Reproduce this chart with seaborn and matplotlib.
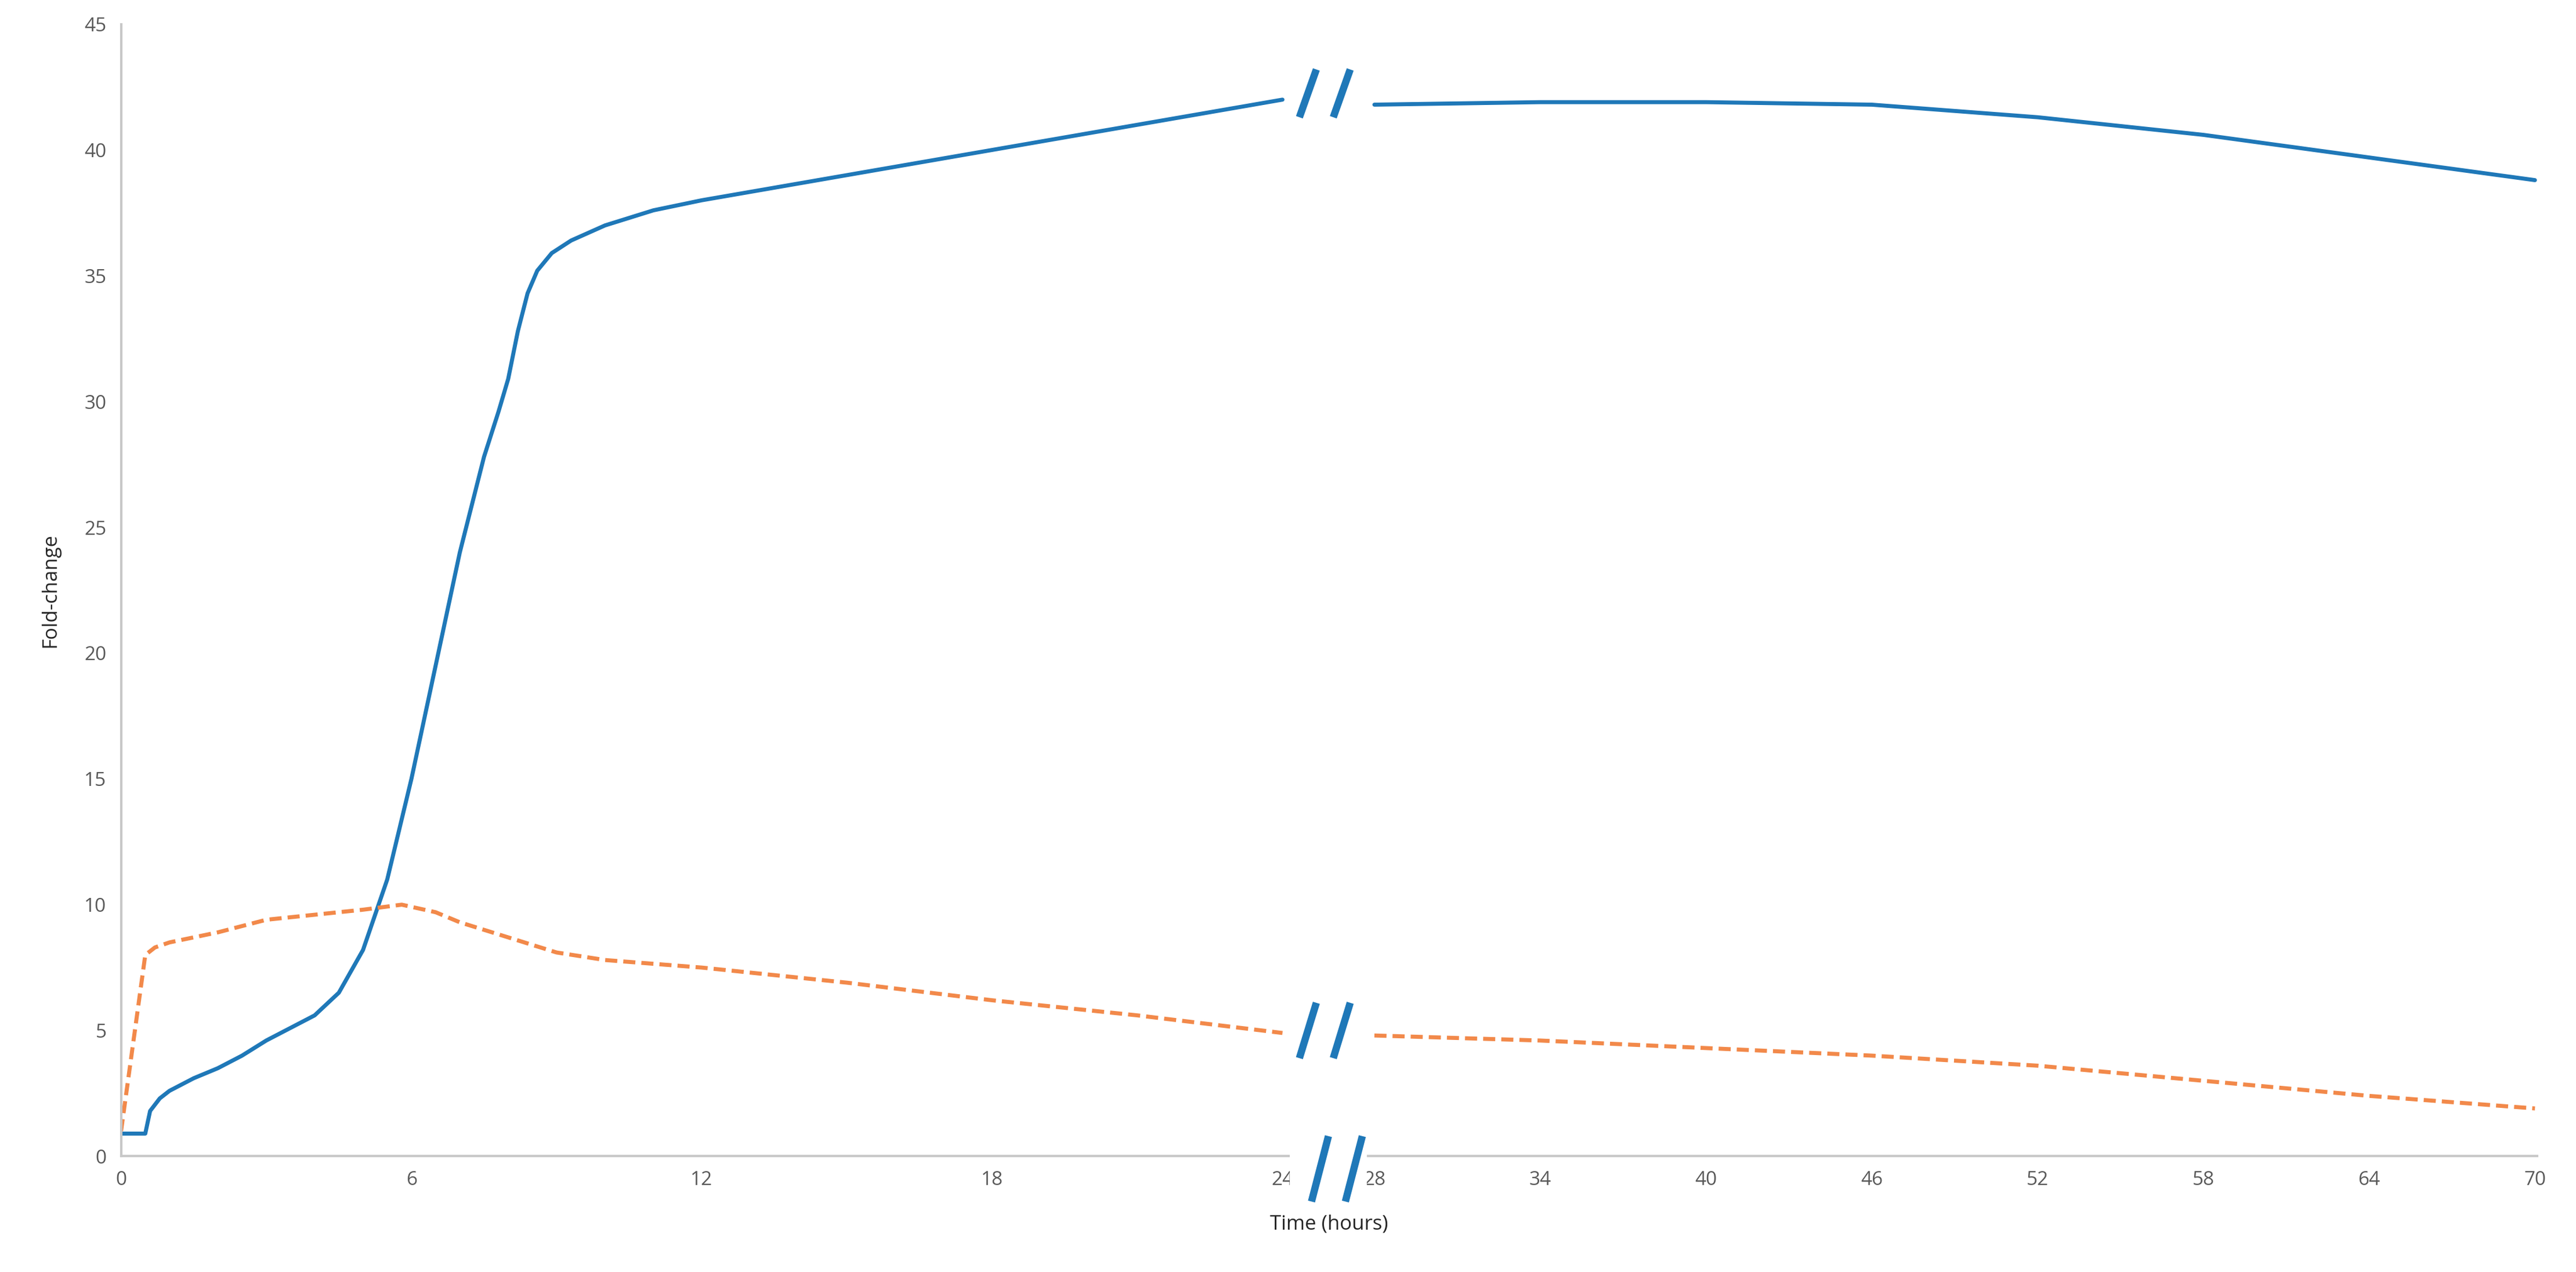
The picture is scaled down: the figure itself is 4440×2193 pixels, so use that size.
import numpy as np
import pandas as pd
import matplotlib.pyplot as plt
import seaborn as sns
from matplotlib.patches import Rectangle

# values (time in hours, fold-change)
blue_t = [0, 0.5, 0.6, 0.8, 1, 1.5, 2, 2.5, 3, 3.5, 4, 4.5, 5, 5.5, 6, 6.5, 7, 7.5, 7.8, 8.0,
          8.2, 8.4, 8.6, 8.9, 9.3, 10, 11, 12, 15, 18, 21, 24, 28, 34, 40, 46, 52, 58, 64, 70]
blue_y = [0.9, 0.9, 1.8, 2.3, 2.6, 3.1, 3.5, 4.0, 4.6, 5.1, 5.6, 6.5, 8.2, 11.0, 15.0, 19.5, 24.0,
          27.8, 29.6, 30.9, 32.8, 34.3, 35.2, 35.9, 36.4, 37.0, 37.6, 38.0, 39.0, 40.0, 41.0, 42.0,
          41.8, 41.9, 41.9, 41.8, 41.3, 40.6, 39.7, 38.8]
orange_t = [0, 0.5, 0.7, 1, 2, 3, 4, 5, 5.8, 6.5, 7, 8, 9, 10, 12, 15, 18, 21, 24,
            28, 34, 40, 46, 52, 58, 64, 70]
orange_y = [1.0, 8.0, 8.3, 8.5, 8.9, 9.4, 9.6, 9.8, 10.0, 9.7, 9.3, 8.7, 8.1, 7.8, 7.5, 6.9, 6.2,
            5.6, 4.9, 4.8, 4.6, 4.3, 4.0, 3.6, 3.0, 2.4, 1.9]
x_ticks = [0, 6, 12, 18, 24, 28, 34, 40, 46, 52, 58, 64, 70]

BREAK_LO, BREAK_HI = 24, 28
GAP = 1.9
SCALE_AFTER = 0.571


def to_pos(t):
    t = np.asarray(t, dtype=float)
    return np.where(t <= BREAK_LO, t, BREAK_LO + GAP + (t - BREAK_HI) * SCALE_AFTER)


def make_df(t, y, name):
    df = pd.DataFrame({'t': t, 'y': y})
    df['pos'] = to_pos(df['t'])
    df['seg'] = np.where(df['t'] <= BREAK_LO, 'a', 'b')
    df['series'] = name
    return df


blue = make_df(blue_t, blue_y, 'blue')
orange = make_df(orange_t, orange_y, 'orange')

sns.set_style('white')
plt.rcParams['font.family'] = ['Open Sans', 'DejaVu Sans']

BLUE = '#1f78b8'
ORANGE = '#f2894a'

fig, ax = plt.subplots(figsize=(44.4, 21.93), dpi=100)
fig.subplots_adjust(left=0.047, right=0.985, top=0.981, bottom=0.091)

for seg in ['a', 'b']:
    sns.lineplot(data=blue[blue['seg'] == seg], x='pos', y='y', color=BLUE, lw=5,
                 ax=ax, sort=False, estimator=None)
    sns.lineplot(data=orange[orange['seg'] == seg], x='pos', y='y', color=ORANGE, lw=5,
                 ax=ax, sort=False, estimator=None, linestyle=(0, (3, 1.5)))

ax.set_xlim(0, float(to_pos(70)) + 0.05)
ax.set_ylim(0, 45)
ax.set_yticks(range(0, 46, 5))
ax.set_xticks(to_pos(x_ticks))
ax.set_xticklabels([str(v) for v in x_ticks])
ax.tick_params(axis='both', labelsize=24, colors='#595959', length=0, pad=18)
ax.set_xlabel('Time (hours)', fontsize=25, labelpad=30)
ax.set_ylabel('Fold-change', fontsize=25, labelpad=30)
sns.despine(ax=ax)
for s in ['left', 'bottom']:
    ax.spines[s].set_color('#c8c8c8')
    ax.spines[s].set_linewidth(3)

# axis break: white gap on the x spine plus // marks
ax.add_patch(Rectangle((24.15, -1.2), 1.6, 2.0, facecolor='white', edgecolor='none',
                       clip_on=False, zorder=5))
for (y0, y1) in [(41.3, 43.2), (3.9, 6.1), (-1.8, 0.8)]:
    dx = 0.05 if y0 > 0 else 0.3
    for x0 in [24.3, 25.0]:
        ax.plot([x0 + dx, x0 + dx + 0.35], [y0, y1], color=BLUE, lw=9, clip_on=False,
                zorder=6, solid_capstyle='butt')

plt.savefig('out.png')
